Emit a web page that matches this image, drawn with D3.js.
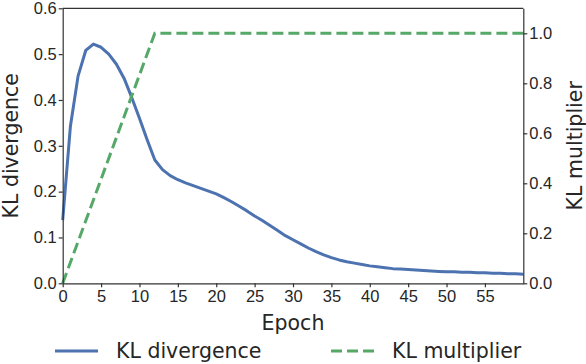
<!DOCTYPE html>
<html>
<head>
<meta charset="utf-8">
<script src="https://cdn.jsdelivr.net/npm/d3@7"></script>
<style>
  body { margin: 0; background: #fff; }
  svg { display: block; font-family: 'DejaVu Sans', sans-serif; }
  .axis text { fill: #262626; font-size: 16.5px; }
  .axis path, .axis line { stroke: #333; stroke-width: 1.2; }
</style>
</head>
<body>
<svg id="chart" width="586" height="364"></svg>
<script>
// KL divergence per epoch
const epochs = d3.range(0, 61);
const klDivergence = [
  0.138, 0.342, 0.452, 0.508, 0.522, 0.515, 0.500, 0.478, 0.447, 0.405,
  0.360, 0.313, 0.269, 0.248, 0.235, 0.226, 0.219, 0.213, 0.207, 0.201,
  0.195, 0.187, 0.178, 0.168, 0.158, 0.147, 0.137, 0.126, 0.115, 0.104,
  0.095, 0.086, 0.077, 0.069, 0.062, 0.056, 0.051, 0.047, 0.044, 0.041,
  0.038, 0.036, 0.034, 0.032, 0.031, 0.030, 0.029, 0.028, 0.027, 0.026,
  0.025, 0.025, 0.024, 0.024, 0.023, 0.023, 0.022, 0.022, 0.021, 0.021,
  0.020
];

// KL multiplier (annealing schedule): ramps up then stays at 1
const multiplierEpochs = [0, 12, 60];
const klMultiplier = [0, 1, 1];

const xTicks = [0, 5, 10, 15, 20, 25, 30, 35, 40, 45, 50, 55];
const leftTicks = [0, 0.1, 0.2, 0.3, 0.4, 0.5, 0.6];
const rightTicks = [0, 0.2, 0.4, 0.6, 0.8, 1.0];

const blue = '#4c72b0';
const green = '#55a868';

const svg = d3.select('#chart');
const margin = { top: 8.3, right: 62.7, bottom: 80.7, left: 62.7 };
const width = +svg.attr('width') - margin.left - margin.right;
const height = +svg.attr('height') - margin.top - margin.bottom;

const g = svg.append('g')
  .attr('transform', `translate(${margin.left},${margin.top})`);

const x = d3.scaleLinear().domain([0, 60]).range([0, width]);
const yLeft = d3.scaleLinear().domain([0, 0.6]).range([height, 0]);
const yRight = d3.scaleLinear().domain([0, 1.1]).range([height, 0]);

// frame (top spine)
g.append('line')
  .attr('x1', 0).attr('x2', width)
  .attr('y1', 0).attr('y2', 0)
  .attr('stroke', '#333')
  .attr('stroke-width', 1.2);

// lines
const klLine = d3.line()
  .x((d, i) => x(epochs[i]))
  .y(d => yLeft(d));

g.append('path')
  .datum(klDivergence)
  .attr('d', klLine)
  .attr('fill', 'none')
  .attr('stroke', blue)
  .attr('stroke-width', 3)
  .attr('stroke-linejoin', 'round');

const multLine = d3.line()
  .x((d, i) => x(multiplierEpochs[i]))
  .y(d => yRight(d));

g.append('path')
  .datum(klMultiplier)
  .attr('d', multLine)
  .attr('fill', 'none')
  .attr('stroke', green)
  .attr('stroke-width', 3)
  .attr('stroke-dasharray', '11,5');

// axes
g.append('g')
  .attr('class', 'axis')
  .attr('transform', `translate(0,${height})`)
  .call(d3.axisBottom(x).tickValues(xTicks).tickSize(4).tickPadding(3).tickSizeOuter(0));

g.append('g')
  .attr('class', 'axis')
  .call(d3.axisLeft(yLeft).tickValues(leftTicks).tickFormat(d3.format('.1f'))
    .tickSize(4).tickPadding(2).tickSizeOuter(0));

g.append('g')
  .attr('class', 'axis')
  .attr('transform', `translate(${width},0)`)
  .call(d3.axisRight(yRight).tickValues(rightTicks).tickFormat(d3.format('.1f'))
    .tickSize(4).tickPadding(2).tickSizeOuter(0));

// axis labels
svg.append('text')
  .attr('x', margin.left + width / 2)
  .attr('y', 330)
  .attr('text-anchor', 'middle')
  .attr('fill', '#262626')
  .attr('font-size', 20.5)
  .text('Epoch');

svg.append('text')
  .attr('transform', `translate(17.5,${margin.top + height / 2}) rotate(-90)`)
  .attr('text-anchor', 'middle')
  .attr('fill', '#262626')
  .attr('font-size', 20.5)
  .text('KL divergence');

svg.append('text')
  .attr('transform', `translate(582,${margin.top + height / 2}) rotate(-90)`)
  .attr('text-anchor', 'middle')
  .attr('fill', '#262626')
  .attr('font-size', 20.5)
  .text('KL multiplier');

// legend
const legendItems = [
  { label: 'KL divergence', color: blue, dash: null, x: 55 },
  { label: 'KL multiplier', color: green, dash: '11,5', x: 331 }
];

const legend = svg.selectAll('.legend')
  .data(legendItems)
  .enter()
  .append('g')
    .attr('class', 'legend')
    .attr('transform', d => `translate(${d.x},351)`);

legend.append('line')
  .attr('x1', 0).attr('x2', 43)
  .attr('y1', 0).attr('y2', 0)
  .attr('stroke', d => d.color)
  .attr('stroke-width', 3)
  .attr('stroke-dasharray', d => d.dash);

legend.append('text')
  .attr('x', 61)
  .attr('dy', '0.35em')
  .attr('fill', '#262626')
  .attr('font-size', 20.5)
  .text(d => d.label);
</script>
</body>
</html>
